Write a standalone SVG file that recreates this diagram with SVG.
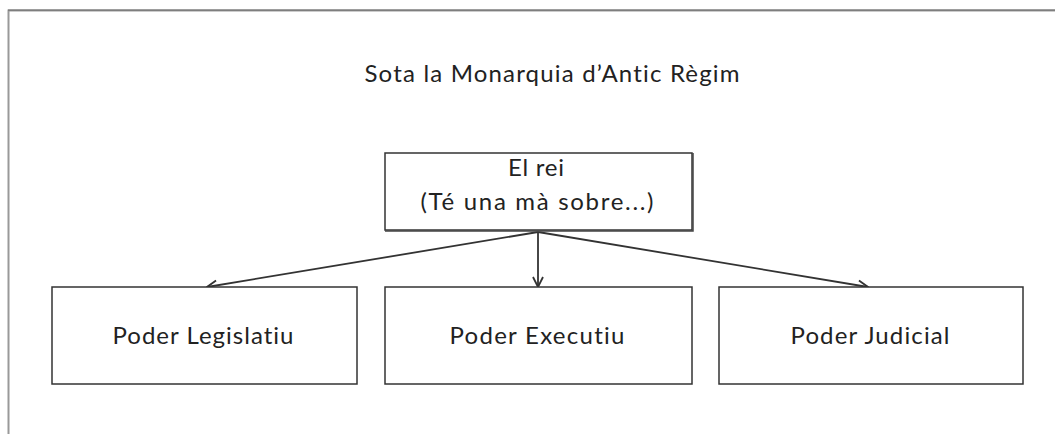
<svg xmlns="http://www.w3.org/2000/svg" width="1055" height="434" viewBox="0 0 1055 434">
<style>
.box{fill:#fff;stroke:#333;stroke-width:1.5}
.shadow{fill:none;stroke:#444;stroke-width:1.5}
.lbl{font-family:Lato,"Liberation Sans",sans-serif;font-size:24px;fill:#222;text-anchor:middle;font-variant-ligatures:none;font-feature-settings:"liga" 0}
.conn{stroke:#333;stroke-width:1.8;fill:none;marker-end:url(#arr)}
</style>
<defs>
<marker id="arr" viewBox="0 0 12 12" refX="11" refY="6" markerWidth="12" markerHeight="12" markerUnits="userSpaceOnUse" orient="auto">
<path d="M1,1 L11,6 L1,11" fill="none" stroke="#333" stroke-width="1.8"/>
</marker>
</defs>
<rect x="0" y="0" width="1055" height="434" fill="#fff"/>
<g id="frame">
<path d="M8.5,434 L8.5,10.5 L1055,10.5" fill="none" stroke="#999" stroke-width="2"/>
<path d="M8,10 L1055,10" stroke="#555" stroke-width="0.8"/>
</g>
<g id="title">
<text class="lbl" x="552" y="82" textLength="375">Sota la Monarquia d’Antic Règim</text>
</g>
<g id="connectors">
<line class="conn" x1="538" y1="232" x2="207" y2="287"/>
<line class="conn" x1="538" y1="232" x2="538" y2="287"/>
<line class="conn" x1="538" y1="232" x2="868" y2="287"/>
</g>
<g id="rei">
<rect class="box" x="385" y="153" width="307" height="77"/>
<path class="shadow" d="M385,231 L693,231 L693,153" stroke-width="2.2"/>
<text class="lbl" x="536" y="176" textLength="56">El rei</text>
<text class="lbl" x="537" y="210" textLength="233">(Té una mà sobre...)</text>
</g>
<g id="legislatiu">
<rect class="box" x="52" y="287" width="305" height="97"/>
<text class="lbl" x="203" y="344" textLength="181">Poder Legislatiu</text>
</g>
<g id="executiu">
<rect class="box" x="385" y="287" width="307" height="97"/>
<text class="lbl" x="537" y="344" textLength="175">Poder Executiu</text>
</g>
<g id="judicial">
<rect class="box" x="719" y="287" width="304" height="97"/>
<text class="lbl" x="870" y="344" textLength="159">Poder Judicial</text>
</g>
</svg>
